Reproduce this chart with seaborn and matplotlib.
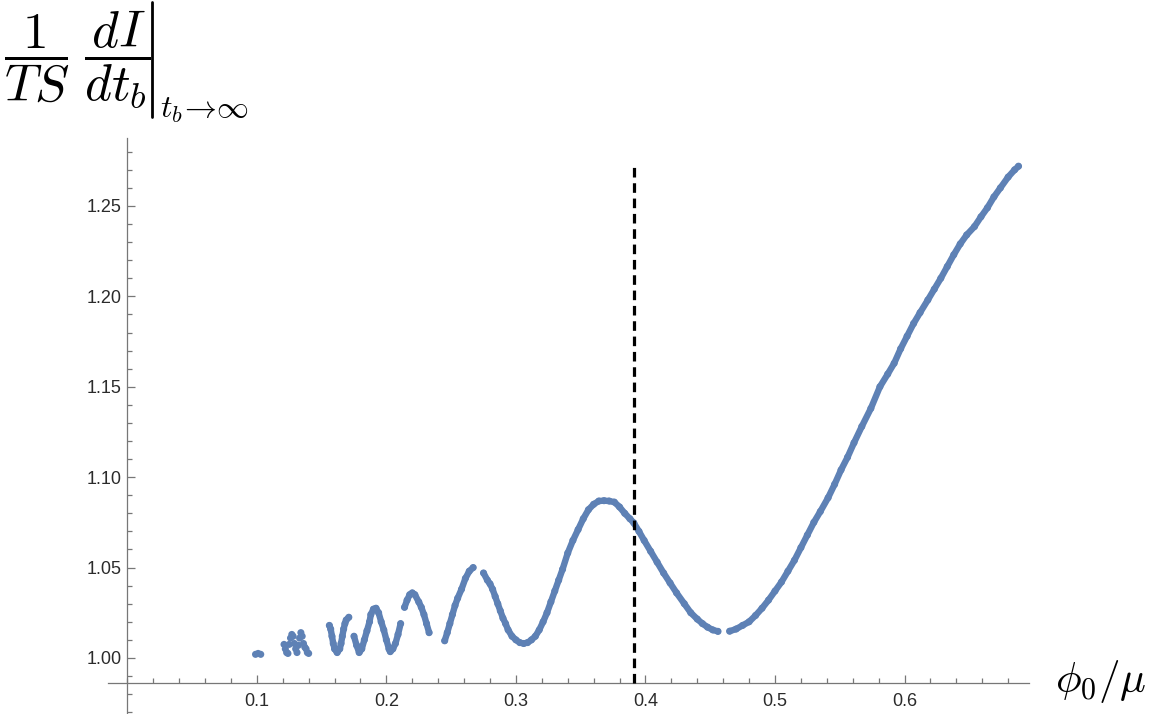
import numpy as np
import pandas as pd
import matplotlib
matplotlib.use("Agg")
import matplotlib.pyplot as plt
from matplotlib.lines import Line2D
from matplotlib.ticker import FixedLocator, MultipleLocator
import seaborn as sns

# ---------------- data ----------------
b1_x = [0.099, 0.101, 0.103]
b1_y = [1.002, 1.0025, 1.002]

cl_x = [0.121, 0.122, 0.123, 0.124, 0.125, 0.126, 0.127, 0.128, 0.129, 0.130,
        0.131, 0.132, 0.133, 0.134, 0.135, 0.136, 0.137, 0.138, 0.139, 0.140]
cl_y = [1.0075, 1.005, 1.003, 1.0025, 1.0075, 1.011, 1.013, 1.012, 1.008, 1.005,
        1.003, 1.007, 1.011, 1.014, 1.012, 1.008, 1.006, 1.005, 1.003, 1.0025]

b3_x = [0.156, 0.157, 0.158, 0.159, 0.160, 0.162, 0.164, 0.165, 0.166, 0.167,
        0.168, 0.169, 0.171]
b3_y = [1.018, 1.016, 1.012, 1.008, 1.005, 1.003, 1.005, 1.008, 1.012, 1.016,
        1.019, 1.021, 1.0225]

b4_x = [0.175, 0.177, 0.179, 0.181, 0.183, 0.185, 0.187, 0.188, 0.190, 0.192,
        0.194, 0.196, 0.198, 0.200, 0.202, 0.203, 0.205, 0.207, 0.209, 0.211]
b4_y = [1.012, 1.007, 1.003, 1.005, 1.010, 1.015, 1.020, 1.024, 1.027, 1.0275,
        1.025, 1.020, 1.0155, 1.010, 1.005, 1.0035, 1.005, 1.008, 1.013, 1.019]

b5_x = [0.214, 0.216, 0.218, 0.220, 0.222, 0.225, 0.227, 0.229, 0.231, 0.233]
b5_y = [1.028, 1.032, 1.035, 1.036, 1.035, 1.031, 1.028, 1.024, 1.019, 1.014]

b6_x = [0.245, 0.247, 0.249, 0.251, 0.253, 0.255, 0.258, 0.261, 0.264, 0.267]
b6_y = [1.0095, 1.014, 1.019, 1.024, 1.029, 1.033, 1.038, 1.044, 1.048, 1.050]

b7_x = [0.275, 0.278, 0.280, 0.282, 0.284, 0.286, 0.288, 0.290, 0.292, 0.294,
        0.297, 0.300, 0.303, 0.306, 0.309, 0.312, 0.315, 0.318, 0.321, 0.324,
        0.327, 0.330, 0.333, 0.336, 0.340, 0.344, 0.348, 0.352, 0.356, 0.360,
        0.364, 0.368, 0.372, 0.376, 0.380, 0.384, 0.388, 0.391, 0.395, 0.399,
        0.404, 0.409, 0.414, 0.419, 0.424, 0.430, 0.435, 0.440, 0.444, 0.448,
        0.452, 0.456]
b7_y = [1.047, 1.043, 1.041, 1.038, 1.034, 1.030, 1.026, 1.022, 1.019, 1.0155,
        1.012, 1.010, 1.0085, 1.008, 1.0085, 1.010, 1.012, 1.0155, 1.020, 1.025,
        1.031, 1.037, 1.043, 1.049, 1.058, 1.065, 1.071, 1.077, 1.082, 1.085,
        1.0868, 1.087, 1.0868, 1.0862, 1.0835, 1.080, 1.077, 1.0747, 1.070, 1.065,
        1.059, 1.053, 1.047, 1.0415, 1.036, 1.030, 1.025, 1.0215, 1.019, 1.017,
        1.0155, 1.0147]

b8_x = [0.465, 0.470, 0.475, 0.480, 0.485, 0.490, 0.495, 0.500, 0.505, 0.510,
        0.515, 0.520, 0.525, 0.530, 0.535, 0.541, 0.546, 0.551, 0.556, 0.561,
        0.567, 0.574, 0.581, 0.587, 0.592, 0.597, 0.602, 0.607, 0.612, 0.618,
        0.623, 0.628, 0.633, 0.638, 0.643, 0.648, 0.654, 0.659, 0.664, 0.669,
        0.674, 0.680, 0.685, 0.688]
b8_y = [1.0148, 1.016, 1.018, 1.020, 1.0235, 1.0275, 1.032, 1.037, 1.042, 1.048,
        1.054, 1.061, 1.068, 1.075, 1.081, 1.0886, 1.096, 1.104, 1.111, 1.119,
        1.128, 1.138, 1.150, 1.157, 1.163, 1.171, 1.178, 1.185, 1.191, 1.198,
        1.204, 1.210, 1.2165, 1.223, 1.229, 1.234, 1.2386, 1.244, 1.249, 1.255,
        1.260, 1.266, 1.270, 1.272]

x_ticks = [0.1, 0.2, 0.3, 0.4, 0.5, 0.6]
x_ticklabels = ["0.1", "0.2", "0.3", "0.4", "0.5", "0.6"]
y_ticks = [1.00, 1.05, 1.10, 1.15, 1.20, 1.25]
y_ticklabels = ["1.00", "1.05", "1.10", "1.15", "1.20", "1.25"]

vline_x = 0.391
vline_top = 1.273

# ---------------- styling constants ----------------
BLUE = "#5E81B5"
X_LIM = (-0.0149, 0.6961)
Y_LIM = (0.969, 1.2876)
AXIS_Y = 0.986  # where the horizontal axis crosses
W, H = 1152, 714

branches = [("b1", b1_x, b1_y), ("cl", cl_x, cl_y), ("b3", b3_x, b3_y),
            ("b4", b4_x, b4_y), ("b5", b5_x, b5_y), ("b6", b6_x, b6_y),
            ("b7", b7_x, b7_y), ("b8", b8_x, b8_y)]
df = pd.concat([pd.DataFrame({"phi": bx, "val": by, "branch": name})
                for name, bx, by in branches], ignore_index=True)
line_df = df[~df["branch"].isin(["b1", "cl"])]

sns.set_style("white")
plt.rcParams["font.family"] = ["Liberation Sans", "DejaVu Sans"]
plt.rcParams["mathtext.fontset"] = "cm"

fig = plt.figure(figsize=(W / 100, H / 100), dpi=100)
ax = fig.add_axes([108 / W, 0.0, (1029 - 108) / W, (H - 138) / H])

sns.lineplot(data=line_df, x="phi", y="val", units="branch", estimator=None,
             sort=False, color=BLUE, linewidth=4.6, ax=ax, legend=False,
             solid_capstyle="round", zorder=3)
sns.scatterplot(data=df, x="phi", y="val", color=BLUE, s=26, linewidth=0,
                edgecolor="none", ax=ax, legend=False, zorder=4)

ax.vlines(vline_x, AXIS_Y, vline_top, colors="black", linewidth=2.3,
          linestyles=(0, (3, 1.8)), zorder=5)

ax.set_xlim(*X_LIM)
ax.set_ylim(*Y_LIM)
ax.set_xlabel("")
ax.set_ylabel("")

for s in ["top", "right"]:
    ax.spines[s].set_visible(False)
ax.spines["left"].set_position(("data", 0.0))
ax.spines["bottom"].set_position(("data", AXIS_Y))
for s in ["left", "bottom"]:
    ax.spines[s].set_color("#777777")
    ax.spines[s].set_linewidth(0.9)

ax.xaxis.set_major_locator(FixedLocator(x_ticks))
ax.set_xticklabels(x_ticklabels)
ax.xaxis.set_minor_locator(MultipleLocator(0.02))
ax.yaxis.set_major_locator(FixedLocator(y_ticks))
ax.set_yticklabels(y_ticklabels)
ax.yaxis.set_minor_locator(MultipleLocator(0.01))

ax.tick_params(axis="both", which="both", direction="in", color="#777777",
               width=0.9, labelcolor="#2b2b2b", labelsize=13,
               bottom=True, left=True, top=False, right=False)
ax.tick_params(axis="both", which="major", length=6)
ax.tick_params(axis="both", which="minor", length=3.5)
ax.tick_params(axis="x", which="major", pad=7)
ax.tick_params(axis="y", which="major", pad=4)
ax.grid(False)

# ---------------- axis titles ----------------
fig.text(4 / W, 1 - 60 / H, r"$\dfrac{1}{TS}\;\dfrac{dI}{dt_b}$",
         fontsize=37, ha="left", va="center", color="black")
# evaluation bar
fig.add_artist(Line2D([152 / W, 152 / W], [1 - 2 / H, 1 - 117 / H],
                      transform=fig.transFigure, color="black", linewidth=2.0))
fig.text(160 / W, 1 - 118 / H, r"$t_b\!\to\!\infty$",
         fontsize=23, ha="left", va="baseline", color="black")
fig.text(1055 / W, 1 - 692 / H, r"$\phi_0/\mu$",
         fontsize=31, ha="left", va="baseline", color="black")

fig.savefig("out.png", dpi=100)
